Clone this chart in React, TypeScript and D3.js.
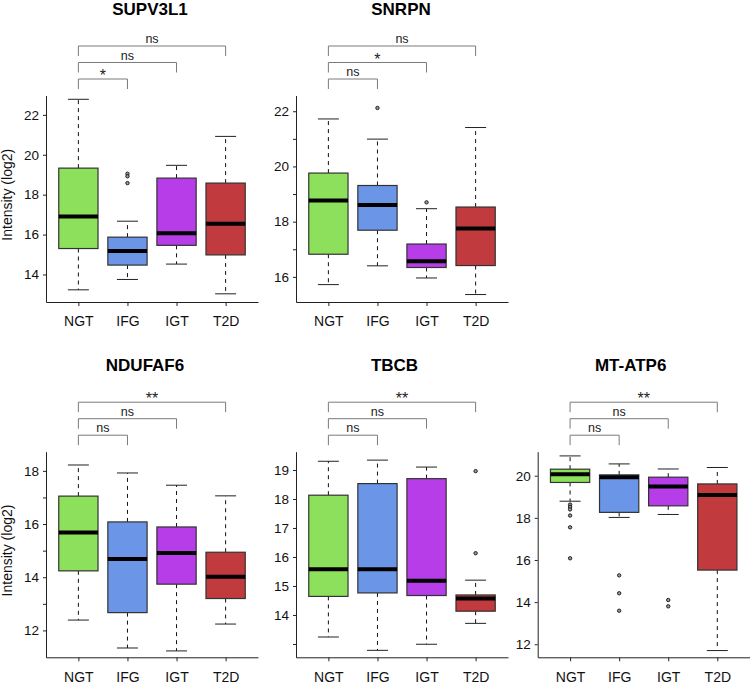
import { useRef, useEffect } from 'react'
import { select, scaleLinear, scalePoint, axisLeft, axisBottom } from 'd3'

// groups shared by every panel
const groups = ['NGT', 'IFG', 'IGT', 'T2D']
const groupColors = ['#8de05b', '#6b96e8', '#b63de8', '#c03a3e']

// box stats: [lower whisker, q1, median, q3, upper whisker]
const supv3l1Boxes = [
  [13.23, 15.3, 16.9, 19.33, 22.78],
  [13.75, 14.47, 15.18, 15.87, 16.67],
  [14.52, 15.46, 16.06, 18.83, 19.47],
  [13.03, 14.98, 16.54, 18.58, 20.92],
]
const supv3l1Outliers = [[], [19.05, 18.92, 18.58], [], []]
const supv3l1Signif = ['*', 'ns', 'ns']
const supv3l1Ticks = [14, 16, 18, 20, 22]
const supv3l1Labels = ['14', '16', '18', '20', '22']

const snrpnBoxes = [
  [15.72, 16.82, 18.77, 19.76, 21.72],
  [16.4, 17.69, 18.6, 19.31, 20.99],
  [15.96, 16.34, 16.57, 17.19, 18.47],
  [15.36, 16.41, 17.75, 18.53, 21.41],
]
const snrpnOutliers = [[], [22.12], [18.7], []]
const snrpnSignif = ['ns', '*', 'ns']
const snrpnTicks = [16, 17, 18, 19, 20, 21, 22]
const snrpnLabels = ['16', '', '18', '', '20', '', '22']

const ndufaf6Boxes = [
  [12.39, 14.24, 15.68, 17.05, 18.22],
  [11.34, 12.67, 14.69, 16.08, 17.92],
  [11.23, 13.74, 14.91, 15.89, 17.46],
  [12.24, 13.2, 14.02, 14.94, 17.06],
]
const ndufaf6Outliers = [[], [], [], []]
const ndufaf6Signif = ['ns', 'ns', '**']
const ndufaf6Ticks = [12, 13, 14, 15, 16, 17, 18]
const ndufaf6Labels = ['12', '', '14', '', '16', '', '18']

const tbcbBoxes = [
  [13.24, 14.64, 15.58, 18.13, 19.3],
  [12.78, 14.76, 15.58, 18.53, 19.34],
  [12.99, 14.67, 15.18, 18.7, 19.1],
  [13.71, 14.13, 14.57, 14.69, 15.2],
]
const tbcbOutliers = [[], [], [], [18.96, 16.13]]
const tbcbSignif = ['ns', 'ns', '**']
const tbcbTicks = [13, 14, 15, 16, 17, 18, 19]
const tbcbLabels = ['', '14', '15', '16', '17', '18', '19']

const mtatp6Boxes = [
  [18.79, 19.68, 20.07, 20.31, 20.94],
  [18.02, 18.26, 19.93, 20.04, 20.56],
  [18.16, 18.57, 19.49, 19.93, 20.32],
  [11.7, 15.52, 19.08, 19.61, 20.39],
]
const mtatp6Outliers = [
  [18.63, 18.52, 18.4, 18.11, 17.55, 16.08],
  [15.27, 14.42, 13.59],
  [14.1, 13.8],
  [],
]
const mtatp6Signif = ['ns', 'ns', '**']
const mtatp6Ticks = [12, 14, 16, 18, 20]
const mtatp6Labels = ['12', '14', '16', '18', '20']

const FONT = "'Liberation Sans', Arial, Helvetica, sans-serif"

const panels = [
  { title: 'SUPV3L1', boxes: supv3l1Boxes, outliers: supv3l1Outliers, signif: supv3l1Signif, ticks: supv3l1Ticks, labels: supv3l1Labels, domain: [12.62, 22.97], left: 46, top: 95.5, bottom: 302, titleX: 150, ylab: true },
  { title: 'SNRPN', boxes: snrpnBoxes, outliers: snrpnOutliers, signif: snrpnSignif, ticks: snrpnTicks, labels: snrpnLabels, domain: [15.09, 22.57], left: 296, top: 95.5, bottom: 302, titleX: 401, ylab: false },
  { title: 'NDUFAF6', boxes: ndufaf6Boxes, outliers: ndufaf6Outliers, signif: ndufaf6Signif, ticks: ndufaf6Ticks, labels: ndufaf6Labels, domain: [10.99, 18.72], left: 46, top: 451.7, bottom: 657.3, titleX: 145, ylab: true },
  { title: 'TBCB', boxes: tbcbBoxes, outliers: tbcbOutliers, signif: tbcbSignif, ticks: tbcbTicks, labels: tbcbLabels, domain: [12.54, 19.63], left: 296, top: 451.7, bottom: 657.3, titleX: 394.5, ylab: false },
  { title: 'MT-ATP6', boxes: mtatp6Boxes, outliers: mtatp6Outliers, signif: mtatp6Signif, ticks: mtatp6Ticks, labels: mtatp6Labels, domain: [11.38, 21.14], left: 537.7, top: 451.7, bottom: 657.3, titleX: 630.7, ylab: false },
]

const BoxPanels = () => {
  const svgRef = useRef(null)

  function renderPanel(svg, p) {
    const g = svg.append('g')

    const xScale = scalePoint()
      .domain(groups)
      .range([p.left, p.left + 212])
      .padding(0.66)

    const yScale = scaleLinear().domain(p.domain).range([p.bottom, p.top])

    const boxW = xScale.step() * 0.8
    const capW = 21

    // axes
    const yAxis = axisLeft(yScale)
      .tickValues(p.ticks)
      .tickFormat((d, i) => p.labels[i])
      .tickSize(3)
      .tickSizeOuter(0)
      .tickPadding(4)
    const yAxisGroup = g.append('g').attr('transform', `translate(${p.left},0)`).call(yAxis)

    const xAxis = axisBottom(xScale).tickSize(4).tickSizeOuter(0).tickPadding(10.5)
    const xAxisGroup = g.append('g').attr('transform', `translate(0,${p.bottom})`).call(xAxis)

    yAxisGroup.selectAll('text').style('font-family', FONT).style('font-size', '13.5px').attr('fill', '#111')
    xAxisGroup.selectAll('text').style('font-family', FONT).style('font-size', '14px').attr('fill', '#111')
    g.selectAll('.domain, .tick line').attr('stroke', '#222').attr('stroke-width', 1)

    // boxes
    p.boxes.forEach((b, i) => {
      const cx = xScale(groups[i])
      const [lo, q1, med, q3, hi] = b

      g.append('line')
        .attr('x1', cx).attr('x2', cx)
        .attr('y1', yScale(q3)).attr('y2', yScale(hi))
        .attr('stroke', '#111').attr('stroke-dasharray', '4,4')
      g.append('line')
        .attr('x1', cx).attr('x2', cx)
        .attr('y1', yScale(q1)).attr('y2', yScale(lo))
        .attr('stroke', '#111').attr('stroke-dasharray', '4,4')

      ;[lo, hi].forEach((v) => {
        g.append('line')
          .attr('x1', cx - capW / 2).attr('x2', cx + capW / 2)
          .attr('y1', yScale(v)).attr('y2', yScale(v))
          .attr('stroke', '#222')
      })

      g.append('rect')
        .attr('x', cx - boxW / 2)
        .attr('y', yScale(q3))
        .attr('width', boxW)
        .attr('height', yScale(q1) - yScale(q3))
        .attr('fill', groupColors[i])
        .attr('stroke', '#333')
        .attr('stroke-width', 1.2)

      g.append('line')
        .attr('x1', cx - boxW / 2).attr('x2', cx + boxW / 2)
        .attr('y1', yScale(med)).attr('y2', yScale(med))
        .attr('stroke', '#000').attr('stroke-width', 4)

      p.outliers[i].forEach((v) => {
        g.append('circle')
          .attr('cx', cx).attr('cy', yScale(v)).attr('r', 1.7)
          .attr('fill', '#999').attr('stroke', '#111').attr('stroke-width', 0.9)
      })
    })

    // significance brackets, NGT vs each group
    p.signif.forEach((s, i) => {
      const x1 = xScale(groups[0])
      const x2 = xScale(groups[i + 1])
      const yb = p.top - 16.5 * (i + 1)
      g.append('path')
        .attr('d', `M${x1},${yb + 10}V${yb}H${x2}V${yb + 10}`)
        .attr('fill', 'none')
        .attr('stroke', '#7a7a7a')
        .attr('stroke-width', 1)
      g.append('text')
        .attr('x', (x1 + x2) / 2)
        .attr('y', s === 'ns' ? yb - 3 : yb + 2)
        .attr('text-anchor', 'middle')
        .style('font-family', FONT)
        .style('font-size', s === 'ns' ? '12.5px' : '16px')
        .attr('fill', '#222')
        .text(s)
    })

    // title
    g.append('text')
      .attr('x', p.titleX)
      .attr('y', p.top - 80.5)
      .attr('text-anchor', 'middle')
      .style('font-family', FONT)
      .style('font-size', '17px')
      .style('font-weight', 'bold')
      .attr('fill', '#000')
      .text(p.title)

    if (p.ylab) {
      g.append('text')
        .attr('transform', `translate(11.5,${(p.top + p.bottom) / 2 - 4}) rotate(-90)`)
        .attr('text-anchor', 'middle')
        .style('font-family', FONT)
        .style('font-size', '14px')
        .attr('fill', '#111')
        .text('Intensity (log2)')
    }
  }

  useEffect(() => {
    const svg = select(svgRef.current)
    svg.selectAll('*').remove()
    panels.forEach((p) => renderPanel(svg, p))
  }, [])

  return (
    <svg
      ref={svgRef}
      width="750"
      height="686"
      style={{ position: 'absolute', left: 0, top: 0, background: '#fff' }}
    ></svg>
  )
}

export default function App() {
  return <BoxPanels />
}
